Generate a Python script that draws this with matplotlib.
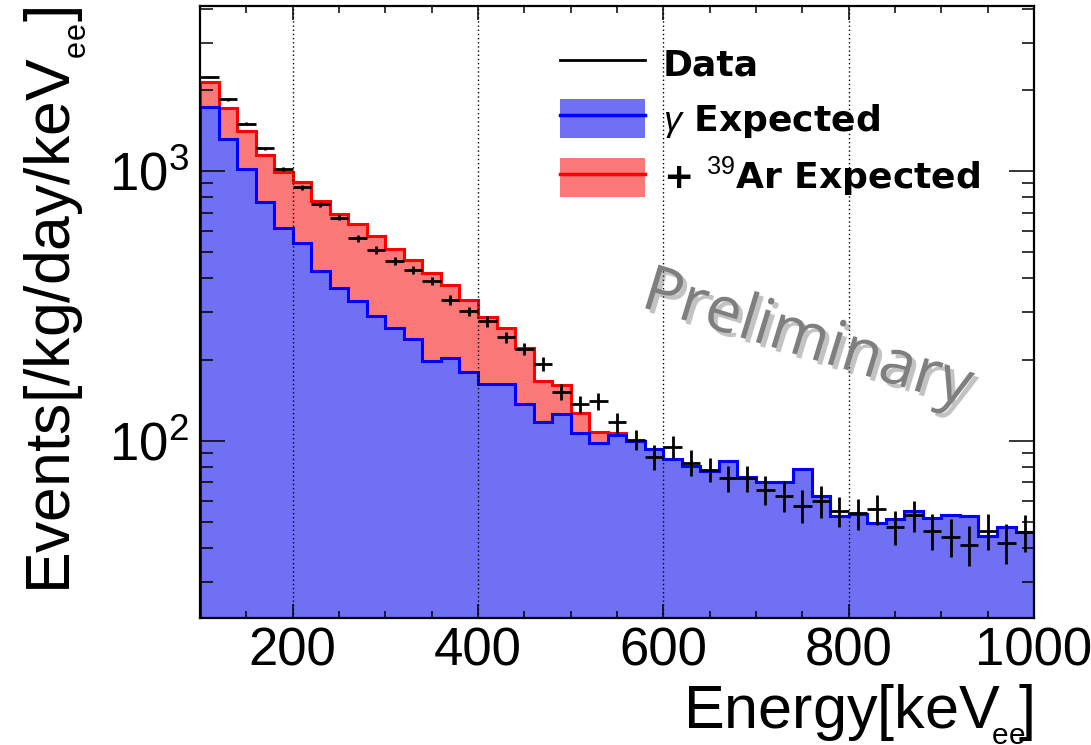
import matplotlib.pyplot as plt
import matplotlib.patheffects as pe
import numpy as np
from matplotlib import ticker
from matplotlib.lines import Line2D
from matplotlib.patches import Patch
from matplotlib.legend_handler import HandlerTuple

plt.rcParams['font.family'] = ['Liberation Sans', 'DejaVu Sans']
plt.rcParams['mathtext.fontset'] = 'custom'
plt.rcParams['mathtext.rm'] = 'Liberation Sans'
plt.rcParams['mathtext.it'] = 'Liberation Sans:italic'
plt.rcParams['mathtext.bf'] = 'Liberation Sans:bold'

# Bins de 20 keV entre 100 e 1000 keVee
bordas  = np.arange(100, 1001, 20)
centros = bordas[:-1] + 10

# Espectro medido [/kg/day/keVee] e incerteza
dados = [2235, 1848, 1502, 1217, 1017, 870, 753, 671, 563, 510,
         464, 430, 392, 333, 302, 277, 242, 219, 193, 152,
         137, 140, 117, 101, 87, 95, 83, 78, 72.5, 72.7,
         65.7, 62.6, 57.4, 59.7, 55.0, 53.8, 55.7, 48.0, 52.8, 46.4,
         44.1, 41.2, 46.4, 41.9, 45.8]
erros = [28, 24, 19, 16, 20, 18, 16, 14, 17, 16,
         15, 14, 14, 13, 12, 12, 11, 11, 12, 11,
         10, 10, 10, 9, 9, 9, 9, 8, 8, 8,
         8, 8, 8, 8, 7, 7, 7, 7, 7, 7,
         7, 7, 7, 7, 7]

# Esperado de gamas (azul)
gama = [1730, 1314, 1017, 770, 614, 542, 427, 367, 331, 289,
        263, 238, 197, 202, 180, 162, 162, 137, 117, 126,
        107, 98.3, 105, 99.6, 93.4, 85.5, 80.3, 77.4, 84.3, 73.1,
        70.5, 70.5, 78.3, 62.6, 52.5, 53.4, 49.4, 51.4, 54.7, 51.7,
        53.0, 52.6, 44.4, 47.9, 46.0]

# Contribuicao do 39Ar somada aos gamas (vermelho)
argonio = [412, 402, 398, 376, 375, 371, 347, 328, 304, 285,
           251, 230, 221, 176, 153, 125, 99, 84, 50, 35,
           20, 9, 2, 0, 0, 0, 0, 0, 0, 0,
           0, 0, 0, 0, 0, 0, 0, 0, 0, 0,
           0, 0, 0, 0, 0]

azul_claro     = '#7070f4'
vermelho_claro = '#fb7878'

fig = plt.figure(figsize=(10.91, 7.45), dpi=100)
ax = fig.add_axes([0.1833, 0.1705, 0.7645, 0.8215])

soma = np.array(gama) + np.array(argonio)

# Histogramas empilhados: soma por baixo, gamas por cima
ax.stairs(soma, bordas, baseline=1, fill=True, color=vermelho_claro, zorder=1)
ax.stairs(soma, bordas, baseline=1, color='red', lw=2.2, zorder=1.1)
ax.stairs(gama, bordas, baseline=1, fill=True, color=azul_claro, zorder=1.2)
ax.stairs(gama, bordas, baseline=1, color='blue', lw=2.2, zorder=1.3)

# Pontos medidos
ax.errorbar(centros, dados, xerr=10, yerr=erros, fmt='none',
            ecolor='k', elinewidth=2, capsize=0, zorder=3)

ax.set_yscale('log')
ax.set_xlim(100, 1000)
ax.set_ylim(22, 4100)

ax.xaxis.set_major_locator(ticker.MultipleLocator(200))
ax.xaxis.set_minor_locator(ticker.MultipleLocator(50))
ax.yaxis.set_minor_formatter(ticker.NullFormatter())

ax.tick_params(which='both', direction='in', top=True, right=True, width=1.1)
ax.tick_params(axis='x', which='major', length=10, labelsize=38, pad=6)
ax.tick_params(axis='x', which='minor', length=5)
ax.tick_params(axis='y', which='major', length=18, labelsize=38, pad=8)
ax.tick_params(axis='y', which='minor', length=9)

ax.grid(axis='x', which='major', ls=(0, (1, 2)), color='k', lw=1)
ax.set_axisbelow(False)
for s in ax.spines.values():
    s.set_linewidth(1.6)

ax.set_xlabel('Energy[keV$\\!_{_{\\rm ee}}\\!$]', loc='right', fontsize=44, labelpad=4)
ax.set_ylabel('Events[/kg/day/keV$_{_{\\rm ee}}$]', loc='top', fontsize=45, labelpad=14)

# Legenda
maos = [Line2D([], [], color='k', lw=2),
        (Patch(facecolor=azul_claro, edgecolor='none'), Line2D([], [], color='blue', lw=2.5)),
        (Patch(facecolor=vermelho_claro, edgecolor='none'), Line2D([], [], color='red', lw=2.5))]
rotulos = ['Data', r'$\gamma$ Expected', r'+ $^{39}$Ar Expected']
ax.legend(maos, rotulos, loc='upper left',
          bbox_to_anchor=(560 / 1091, 1 - 44 / 745), bbox_transform=fig.transFigure,
          frameon=False, prop={'family': 'DejaVu Sans', 'weight': 'bold', 'size': 26},
          handlelength=2.35, handleheight=1.3, handletextpad=0.5,
          labelspacing=0.43, borderpad=0, borderaxespad=0,
          handler_map={tuple: HandlerTuple(ndivide=1, pad=0)})

fig.text(0.740, 0.5436, 'Preliminary', family='Open Sans', fontsize=46,
         color='#7f7f7f', rotation=-17, ha='center', va='center',
         rotation_mode='anchor',
         path_effects=[pe.SimplePatchShadow(offset=(3, -3), shadow_rgbFace='#555555', alpha=0.35),
                       pe.Normal()])

fig.savefig('out.png', dpi=100)
